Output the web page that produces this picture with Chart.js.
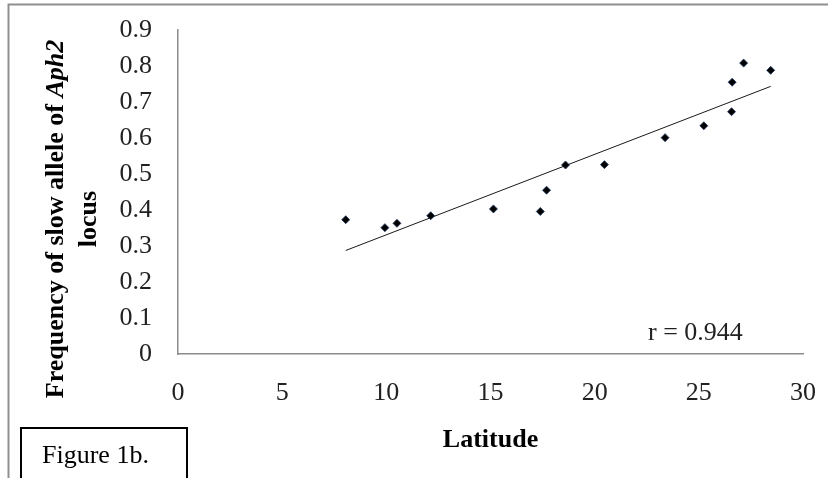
<!DOCTYPE html>
<html>
<head>
<meta charset="utf-8">
<script src="https://cdn.jsdelivr.net/npm/chart.js@4.4.1/dist/chart.umd.min.js"></script>
<style>
  html, body { margin: 0; padding: 0; background: #fff; }
  canvas { display: block; }
</style>
</head>
<body>
<canvas id="chart" width="828" height="478"></canvas>
<script>
// Latitude (degrees N) of each sampled population
const latitude = [8.05, 9.93, 10.51, 12.13, 15.14, 17.39, 17.69, 18.6, 20.47, 23.38, 25.24, 26.57, 26.6, 27.15, 28.45];
// Frequency of the slow allele of the Aph2 locus in each population
const slowAlleleFreq = [0.373, 0.351, 0.363, 0.384, 0.403, 0.396, 0.455, 0.525, 0.526, 0.601, 0.634, 0.673, 0.755, 0.808, 0.788];

const xTickValues = [0, 5, 10, 15, 20, 25, 30];
const xTickLabels = ['0', '5', '10', '15', '20', '25', '30'];
const yTickValues = [0, 0.1, 0.2, 0.3, 0.4, 0.5, 0.6, 0.7, 0.8, 0.9];
const yTickLabels = ['0', '0.1', '0.2', '0.3', '0.4', '0.5', '0.6', '0.7', '0.8', '0.9'];

const correlationText = 'r = 0.944';
const xAxisTitle = 'Latitude';
const yAxisTitleLine1 = [['Frequency of slow allele of ', 'bold'], ['Aph2', 'italic bold']];
const yAxisTitleLine2 = 'locus';
const figureCaption = 'Figure 1b.';

const SERIF = '"Liberation Serif", "Times New Roman", serif';
const FONT_SIZE = 26;

// Ordinary least-squares trend line over the sampled latitudes
function linearFit(xs, ys) {
  const n = xs.length;
  const mx = xs.reduce((a, b) => a + b, 0) / n;
  const my = ys.reduce((a, b) => a + b, 0) / n;
  let sxy = 0, sxx = 0;
  for (let i = 0; i < n; i++) {
    sxy += (xs[i] - mx) * (ys[i] - my);
    sxx += (xs[i] - mx) * (xs[i] - mx);
  }
  const slope = sxy / sxx;
  return { slope, intercept: my - slope * mx };
}
const fit = linearFit(latitude, slowAlleleFreq);
const xMin = Math.min(...latitude);
const xMax = Math.max(...latitude);
const trendPoints = [xMin, xMax].map(x => ({ x, y: fit.intercept + fit.slope * x }));

const decorations = {
  id: 'decorations',
  beforeDraw(chart) {
    const ctx = chart.ctx;
    ctx.save();
    ctx.fillStyle = '#fff';
    ctx.fillRect(0, 0, chart.width, chart.height);
    // outer frame (top and left edges)
    ctx.strokeStyle = '#8f8f8f';
    ctx.lineWidth = 2;
    ctx.beginPath();
    ctx.moveTo(8.5, chart.height);
    ctx.lineTo(8.5, 4.5);
    ctx.lineTo(chart.width, 4.5);
    ctx.stroke();
    ctx.restore();
  },
  afterDraw(chart) {
    const ctx = chart.ctx;
    const area = chart.chartArea;
    ctx.save();
    ctx.fillStyle = '#000';

    // x axis title
    ctx.font = `bold ${FONT_SIZE}px ${SERIF}`;
    ctx.textAlign = 'center';
    ctx.textBaseline = 'alphabetic';
    ctx.fillText(xAxisTitle, (area.left + area.right) / 2, area.bottom + 93);

    // y axis title, two rotated lines, mixed bold / bold italic
    const midY = 219;
    ctx.save();
    ctx.translate(63, midY);
    ctx.rotate(-Math.PI / 2);
    ctx.textAlign = 'left';
    let total = 0;
    const widths = yAxisTitleLine1.map(([txt, style]) => {
      ctx.font = `${style} ${FONT_SIZE}px ${SERIF}`;
      const w = ctx.measureText(txt).width;
      total += w;
      return w;
    });
    let cx = -total / 2;
    yAxisTitleLine1.forEach(([txt, style], i) => {
      ctx.font = `${style} ${FONT_SIZE}px ${SERIF}`;
      ctx.fillText(txt, cx, 0);
      cx += widths[i];
    });
    ctx.restore();

    ctx.save();
    ctx.translate(96, midY);
    ctx.rotate(-Math.PI / 2);
    ctx.textAlign = 'center';
    ctx.font = `bold ${FONT_SIZE}px ${SERIF}`;
    ctx.fillText(yAxisTitleLine2, 0, 0);
    ctx.restore();

    // correlation coefficient
    ctx.font = `${FONT_SIZE}px ${SERIF}`;
    ctx.fillStyle = '#222';
    ctx.textAlign = 'left';
    ctx.fillText(correlationText, area.right - 155, area.bottom - 14);

    // caption box
    ctx.strokeStyle = '#000';
    ctx.lineWidth = 2;
    ctx.strokeRect(21, 428, 166, 80);
    ctx.fillStyle = '#000';
    ctx.font = `${FONT_SIZE}px ${SERIF}`;
    ctx.fillText(figureCaption, 42, 463);
    ctx.restore();
  }
};

new Chart(document.getElementById('chart'), {
  type: 'scatter',
  data: {
    datasets: [
      {
        label: 'Aph2 slow allele',
        data: latitude.map((x, i) => ({ x, y: slowAlleleFreq[i] })),
        pointStyle: 'rectRot',
        pointRadius: 4,
        backgroundColor: '#000',
        borderColor: '#1d3560',
        borderWidth: 0.8,
        order: 1
      },
      {
        type: 'line',
        label: 'Linear trend',
        data: trendPoints,
        borderColor: '#1a1a1a',
        borderWidth: 1,
        pointRadius: 0,
        fill: false,
        order: 2
      }
    ]
  },
  options: {
    responsive: false,
    animation: false,
    devicePixelRatio: 1,
    layout: { padding: { top: 30, right: 25, left: 0, bottom: 0 } },
    plugins: { legend: { display: false }, tooltip: { enabled: false } },
    scales: {
      x: {
        type: 'linear',
        min: 0,
        max: 30,
        afterBuildTicks: s => { s.ticks = xTickValues.map(v => ({ value: v })); },
        afterFit: s => { s.height = 124; s.paddingLeft = 0; s.paddingRight = 0; },
        grid: { display: false, drawTicks: false, tickLength: 0 },
        border: { display: true, color: '#8c8c8c', width: 1.5 },
        ticks: {
          padding: 24,
          color: '#222',
          font: { family: SERIF, size: FONT_SIZE },
          maxRotation: 0,
          autoSkip: false,
          callback: (v, i) => xTickLabels[i]
        }
      },
      y: {
        type: 'linear',
        min: 0,
        max: 0.9,
        afterBuildTicks: s => { s.ticks = yTickValues.map(v => ({ value: v })); },
        afterFit: s => { s.width = 178; s.paddingTop = 0; s.paddingBottom = 0; },
        grid: { display: false, drawTicks: false, tickLength: 0 },
        border: { display: true, color: '#8c8c8c', width: 1.5 },
        ticks: {
          padding: 26,
          color: '#222',
          font: { family: SERIF, size: FONT_SIZE },
          autoSkip: false,
          callback: (v, i) => yTickLabels[i]
        }
      }
    }
  },
  plugins: [decorations]
});
</script>
</body>
</html>
